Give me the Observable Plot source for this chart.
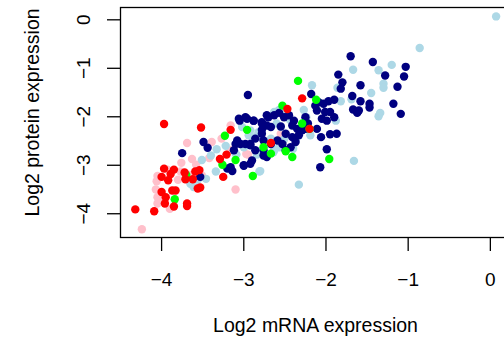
<!DOCTYPE html>
<html>
<head>
<meta charset="utf-8">
<script src="https://cdn.jsdelivr.net/npm/d3@7"></script>
<script src="https://cdn.jsdelivr.net/npm/@observablehq/plot@0.6"></script>
<style>
  html, body { margin: 0; padding: 0; background: #fff; }
  #chart svg { display: block; background: #fff; font-family: "Liberation Sans", Arial, sans-serif; overflow: hidden; }
</style>
</head>
<body>
<div id="chart"></div>
<script>
// ---- data (Log2 mRNA, Log2 protein) by group ----
const groups = ["Group A", "Group B", "Group C", "Group D", "Group E"];
const groupColors = ["#FFC0CB", "#ADD8E6", "#000080", "#00FF00", "#FF0000"];

// Group A (pink)
const aMRNA = [-4.24,-3.10,-3.69,-3.39,-3.27,-3.16,-3.76,-3.63,-3.42,-3.58,-2.95,-3.16,-4.05,-4.06,-4.07,-4.05,-4.01,-3.90,-3.93,-3.77,-3.51,-4.05,-2.97,-2.55,-3.80,-3.65];
const aProt = [-4.32,-3.50,-2.54,-2.52,-2.45,-2.18,-2.95,-2.87,-2.85,-2.99,-2.78,-2.69,-3.22,-3.33,-3.50,-3.79,-3.75,-3.90,-3.09,-3.13,-3.21,-3.66,-2.77,-2.35,-3.30,-3.20];

// Group B (light blue)
const bMRNA = [0.07,-0.86,-1.20,-1.36,-1.30,-1.30,-1.45,-1.67,-1.82,-1.69,-2.17,-2.27,-1.34,-1.36,-1.66,-2.33,-1.88,-2.19,-2.81,-3.34,-3.46,-3.51,-3.33,-3.22,-3.09,-2.98,-2.84,-2.84,-2.59,-2.49,-2.40,-2.51,-2.57,-2.64,-3.65,-3.61,-3.02,-2.37,-1.86,-2.63,-2.57,-2.60,-2.55,-2.82,-2.94,-2.67,-3.00,-3.10,-2.63,-2.55,-2.80,-2.44,-2.24,-2.92,-2.90,-2.82,-3.56,-3.40];
const bProt = [0.07,-0.58,-0.93,-1.04,-1.32,-1.40,-1.51,-1.03,-1.68,-1.64,-1.35,-1.86,-1.92,-1.99,-2.91,-3.40,-2.08,-2.38,-3.13,-3.13,-3.28,-2.89,-2.67,-2.60,-2.78,-2.60,-2.41,-2.78,-1.89,-1.94,-2.66,-2.47,-2.63,-2.73,-3.38,-3.45,-2.21,-2.49,-1.40,-1.90,-1.86,-2.14,-2.21,-2.35,-2.38,-2.45,-2.63,-2.76,-2.69,-2.59,-3.12,-2.06,-2.01,-2.28,-2.42,-2.32,-3.30,-2.80];

// Group C (navy)
const cMRNA = [-1.70,-1.43,-1.03,-1.28,-1.05,-1.13,-1.58,-1.85,-1.80,-1.82,-2.18,-1.68,-1.58,-1.47,-1.47,-1.18,-1.09,-1.67,-1.62,-1.60,
  -1.90,-1.97,-2.03,-2.09,-2.13,-2.11,-2.01,-1.95,-1.99,-2.05,-1.90,-2.11,-2.06,-1.95,-1.87,-1.99,-2.07,-2.22,-2.25,-2.25,-2.35,-2.41,-2.39,-2.45,-2.51,-2.57,-2.63,-2.70,-2.78,-2.88,-2.96,-3.05,-2.95,-2.78,-2.67,-2.55,-2.49,-2.41,-2.33,-2.29,-2.59,-2.53,-2.67,-2.76,-2.86,-2.92,-2.76,-2.72,-2.98,-3.08,-2.43,-2.37,-2.49,-2.92,-3.00,-3.16,
  -3.75,-3.49,-3.44,-3.20,-3.14,-3.53,-3.06,-2.98,-2.88,-2.72,-2.78,-2.72,-3.10,-3.04,-2.92,-2.78,-2.76,-3.00,-2.90,-3.12,-2.86];
const cProt = [-0.75,-0.87,-0.97,-1.15,-1.17,-1.38,-1.35,-1.13,-1.29,-1.42,-1.53,-1.57,-1.68,-1.73,-1.81,-1.73,-1.94,-1.85,-1.92,-1.87,
  -1.65,-1.68,-1.73,-1.70,-1.77,-1.87,-1.90,-1.90,-2.08,-2.04,-2.01,-2.25,-2.42,-2.36,-2.35,-2.67,-3.04,-2.14,-2.01,-2.25,-2.25,-2.18,-2.08,-1.97,-2.01,-1.92,-1.97,-2.01,-2.11,-2.08,-2.04,-2.08,-1.55,-2.27,-2.21,-2.20,-2.35,-2.42,-2.38,-2.28,-2.49,-2.56,-2.56,-2.49,-2.45,-2.59,-2.69,-2.83,-2.56,-2.49,-2.63,-2.52,-2.69,-2.97,-3.00,-3.04,
  -2.75,-2.52,-2.64,-3.07,-3.12,-3.24,-2.04,-2.01,-2.08,-1.97,-2.14,-2.18,-2.56,-2.56,-2.56,-2.35,-2.80,-3.01,-2.90,-2.69,-2.69];

// Group D (green)
const dMRNA = [-2.34,-2.53,-2.12,-2.96,-3.23,-2.76,-2.67,-2.49,-2.41,-1.96,-3.10,-3.26,-2.89,-3.70,-3.84,-2.29,-2.20];
const dProt = [-1.26,-1.77,-1.65,-2.27,-2.39,-2.63,-2.76,-2.71,-2.83,-2.87,-2.89,-2.99,-3.22,-3.20,-3.70,-2.14,-2.25];

// Group E (red)
const eMRNA = [-3.97,-3.52,-3.16,-2.29,-2.67,-3.21,-3.29,-3.25,-3.97,-3.85,-4.00,-3.89,-3.92,-3.72,-3.71,-3.62,-3.59,-3.54,-3.56,-3.53,-4.00,-3.95,-3.87,-3.83,-3.96,-3.85,-3.69,-3.69,-4.32,-4.09,-2.47,-2.20];
const eProt = [-2.15,-2.22,-2.27,-1.62,-2.54,-2.78,-2.87,-3.24,-3.07,-3.09,-3.24,-3.18,-3.31,-3.15,-3.29,-3.29,-3.13,-3.10,-3.48,-3.46,-3.55,-3.66,-3.52,-3.52,-3.79,-3.85,-3.79,-3.84,-3.91,-3.95,-1.84,-2.25];

const xTicks = [-4, -3, -2, -1, 0];
const yTicks = [-4, -3, -2, -1, 0];
const xLabel = "Log2 mRNA expression";
const yLabel = "Log2 protein expression";

// ---- build table ----
const series = [[aMRNA, aProt], [bMRNA, bProt], [cMRNA, cProt], [dMRNA, dProt], [eMRNA, eProt]];
const points = [];
groups.forEach((g, gi) => {
  const [xs, ys] = series[gi];
  xs.forEach((x, i) => points.push({group: g, mrna: x, protein: ys[i]}));
});

const minus = d => String(d).replace("-", "\u2212");

const chart = Plot.plot({
  width: 504,
  height: 342,
  marginLeft: 120,
  marginRight: -6,
  marginTop: 7,
  marginBottom: 105,
  style: {background: "#fff", color: "black", fontFamily: "Liberation Sans, Arial, sans-serif"},
  x: {domain: [-4.50, 0.245]},
  y: {domain: [-4.49, 0.254]},
  color: {type: "ordinal", domain: groups, range: groupColors},
  marks: [
    Plot.dot(points, {x: "mrna", y: "protein", fill: "group", r: 4.2, stroke: "none"}),
    Plot.frame({stroke: "black", strokeWidth: 1.3}),
    Plot.axisX({ticks: xTicks, tickSize: 14, tickPadding: 21, fontSize: 19, tickFormat: minus, label: null, strokeWidth: 1.3}),
    Plot.axisY({ticks: yTicks, tickSize: 13, tickFormat: () => "", label: null, strokeWidth: 1.3}),
    Plot.text(yTicks, {y: d => d, text: minus, frameAnchor: "left", textAnchor: "middle", dx: -37, rotate: -90, fontSize: 19, fill: "black"}),
    Plot.text([xLabel], {text: d => d, frameAnchor: "bottom", textAnchor: "middle", lineAnchor: "top", dy: 81, fontSize: 19.5, fill: "black"}),
    Plot.text([yLabel], {text: d => d, frameAnchor: "left", textAnchor: "middle", lineAnchor: "top", rotate: -90, dx: -95, dy: -10, fontSize: 19.5, fill: "black"})
  ]
});
document.getElementById("chart").appendChild(chart);
</script>
</body>
</html>
